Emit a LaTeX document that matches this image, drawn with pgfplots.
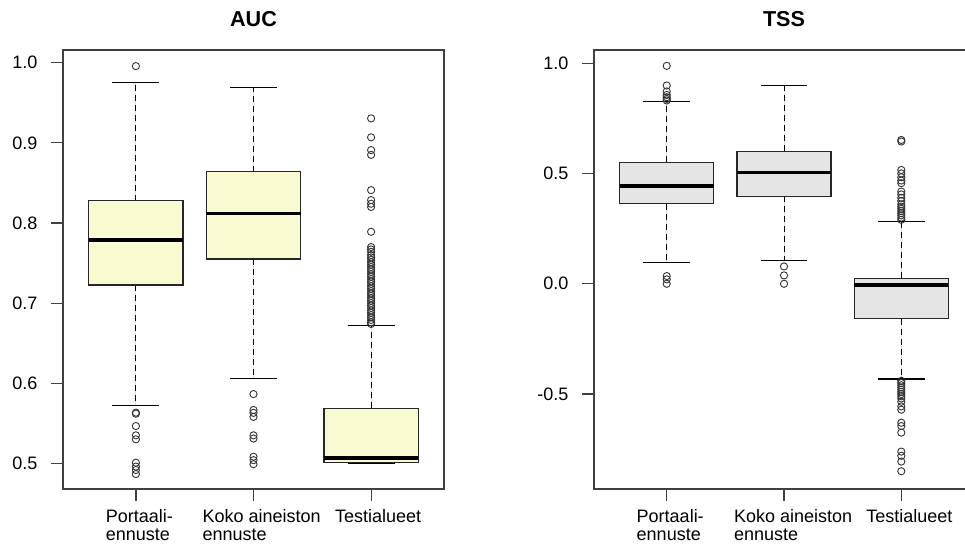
\documentclass[border=0pt]{standalone}
\usepackage{fontspec}
\setmainfont{Liberation Sans}
\usepackage{pgfplots}
\pgfplotsset{compat=1.18}
\usepgfplotslibrary{statistics}
\definecolor{aucfill}{HTML}{FAFAD2}
\definecolor{tssfill}{HTML}{E5E5E5}
\definecolor{frame}{HTML}{404040}
\newcommand\xl[3]{\makebox[0pt][l]{\hspace*{#1}\begin{tabular}[t]{@{}l@{}}#2\\#3\end{tabular}}}
\pgfplotsset{
  rframe/.style={
    scale only axis,
    width=381pt, height=439pt,
    xmin=0.38, xmax=3.62,
    xtick={1,2,3},
    tick pos=left,
    tick align=outside,
    major tick length=11.6pt,
    major tick style={frame, line width=1.2pt},
    axis line style={frame, line width=1.6pt},
    ticklabel style={font=\fontsize{18}{18.5}\selectfont, text=black},
    yticklabel style={anchor=east, inner sep=0pt, xshift=-13.7pt},
    xticklabel style={anchor=north, inner sep=0pt, yshift=-8.2pt},
    title style={at={(0.5,1)}, anchor=base, yshift=17pt, font=\bfseries\fontsize{21.6}{24}\selectfont},
    boxplot/draw direction=y,
    boxplot/box extend=0.8,
    boxplot/whisker extend=0.4,
    boxplot/every median/.style={line width=3.6pt, black},
    boxplot/draw/lower whisker/.code={
      \draw[black, line width=1pt, dash pattern=on 6pt off 4pt]
        (boxplot cs:\pgfplotsboxplotvalue{lower quartile}) -- (boxplot cs:\pgfplotsboxplotvalue{lower whisker});
      \draw[black, line width=1.3pt]
        (boxplot whisker cs:\pgfplotsboxplotvalue{lower whisker},0) -- (boxplot whisker cs:\pgfplotsboxplotvalue{lower whisker},1);
    },
    boxplot/draw/upper whisker/.code={
      \draw[black, line width=1pt, dash pattern=on 6pt off 4pt]
        (boxplot cs:\pgfplotsboxplotvalue{upper quartile}) -- (boxplot cs:\pgfplotsboxplotvalue{upper whisker});
      \draw[black, line width=1.3pt]
        (boxplot whisker cs:\pgfplotsboxplotvalue{upper whisker},0) -- (boxplot whisker cs:\pgfplotsboxplotvalue{upper whisker},1);
    },
  },
  rbox/.style={draw=black!85, line width=1.2pt, fill=#1, mark=o, mark size=3.6pt,
    mark options={draw=black!80, line width=0.9pt, solid, fill=none}},
}
\begin{document}
\begin{tikzpicture}
\begin{axis}[rframe, at={(63pt,55pt)}, anchor=south west,
  title={AUC},
  ymin=0.468, ymax=1.0159,
  ytick={0.5,0.6,0.7,0.8,0.9,1.0},
  yticklabels={0.5,0.6,0.7,0.8,0.9,1.0},
  xticklabels={{\xl{-30pt}{Portaali-}{ennuste}},{\xl{-51pt}{Koko aineiston}{ennuste}},{\xl{-36pt}{Testialueet}{}}},
]
\addplot[rbox=aucfill, boxplot prepared={draw position=1, lower whisker=0.5724, lower quartile=0.7225, median=0.779, upper quartile=0.828, upper whisker=0.9755}]
  table[row sep=\\, y index=0] {v\\ 0.9958\\ 0.5633\\ 0.562\\ 0.5466\\ 0.535\\ 0.530\\ 0.5008\\ 0.496\\ 0.4917\\ 0.4867\\};
\addplot[rbox=aucfill, boxplot prepared={draw position=2, lower whisker=0.606, lower quartile=0.755, median=0.812, upper quartile=0.864, upper whisker=0.9692}]
  table[row sep=\\, y index=0] {v\\ 0.5865\\ 0.5666\\ 0.563\\ 0.558\\ 0.535\\ 0.531\\ 0.5083\\ 0.504\\ 0.499\\};
\addplot[rbox=aucfill, boxplot prepared={draw position=3, lower whisker=0.500, lower quartile=0.5008, median=0.507, upper quartile=0.5686, upper whisker=0.672}]
  table[row sep=\\, y index=0] {v\\ 0.9306\\ 0.9069\\ 0.891\\ 0.885\\ 0.841\\ 0.8286\\ 0.824\\ 0.820\\ 0.789\\ 0.770\\ 0.767\\ 0.764\\ 0.760\\ 0.757\\ 0.754\\ 0.751\\ 0.748\\ 0.745\\ 0.742\\ 0.739\\ 0.736\\ 0.733\\ 0.730\\ 0.727\\ 0.724\\ 0.721\\ 0.718\\ 0.715\\ 0.712\\ 0.709\\ 0.706\\ 0.703\\ 0.700\\ 0.697\\ 0.694\\ 0.691\\ 0.688\\ 0.685\\ 0.682\\ 0.679\\ 0.676\\ 0.674\\};
\end{axis}
\begin{axis}[rframe, at={(594pt,55pt)}, anchor=south west, width=380pt,
  title={TSS},
  ymin=-0.9305, ymax=1.06,
  ytick={-0.5,0,0.5,1.0},
  yticklabels={-0.5,0.0,0.5,1.0},
  xticklabels={{\xl{-30pt}{Portaali-}{ennuste}},{\xl{-50pt}{Koko aineiston}{ennuste}},{\xl{-35pt}{Testialueet}{}}},
]
\addplot[rbox=tssfill, boxplot prepared={draw position=1, lower whisker=0.098, lower quartile=0.364, median=0.4426, upper quartile=0.550, upper whisker=0.825}]
  table[row sep=\\, y index=0] {v\\ 0.988\\ 0.899\\ 0.872\\ 0.856\\ 0.846\\ 0.838\\ 0.831\\ 0.035\\ 0.02\\ 0.0\\};
\addplot[rbox=tssfill, boxplot prepared={draw position=2, lower whisker=0.104, lower quartile=0.397, median=0.5045, upper quartile=0.601, upper whisker=0.899}]
  table[row sep=\\, y index=0] {v\\ 0.0785\\ 0.038\\ 0.0\\};
\addplot[rbox=tssfill, boxplot prepared={draw position=3, lower whisker=-0.432, lower quartile=-0.1586, median=-0.0045, upper quartile=0.024, upper whisker=0.2825}]
  table[row sep=\\, y index=0] {v\\ 0.652\\ 0.645\\ 0.516\\ 0.50\\ 0.483\\ 0.468\\ 0.456\\ 0.418\\ 0.405\\ 0.39\\ 0.375\\ 0.36\\ 0.35\\ 0.34\\ 0.33\\ 0.32\\ 0.31\\ 0.30\\ 0.29\\ -0.44\\ -0.45\\ -0.46\\ -0.47\\ -0.48\\ -0.49\\ -0.50\\ -0.51\\ -0.52\\ -0.535\\ -0.556\\ -0.571\\ -0.630\\ -0.645\\ -0.675\\ -0.761\\ -0.78\\ -0.806\\ -0.85\\};
\end{axis}
\pgfresetboundingbox
\useasboundingbox (0pt,0pt) rectangle (965pt,544pt);
\end{tikzpicture}
\end{document}
